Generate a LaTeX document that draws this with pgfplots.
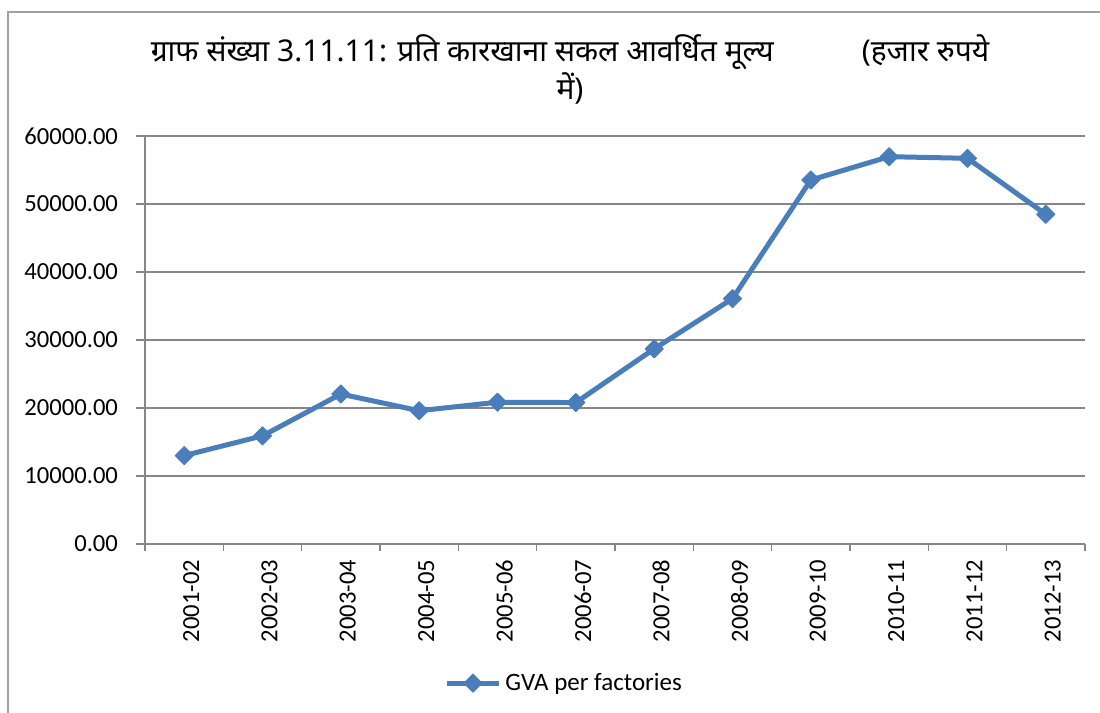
\documentclass[border=0pt]{standalone}
\usepackage{pgfplots}
\pgfplotsset{compat=1.18}
\usepackage{fontspec}
\setmainfont{Carlito}
\newfontfamily\devfont[Script=Devanagari]{Noto Sans}
\definecolor{serblue}{RGB}{74,126,187}
\definecolor{gridgray}{RGB}{134,134,134}
\definecolor{framegray}{RGB}{160,160,160}
\begin{document}
\begin{tikzpicture}
\path[use as bounding box] (-72.5pt,-84.5pt) rectangle (477.5pt,272pt);
\fill[white] (-72.5pt,-84.5pt) rectangle (477.5pt,272pt);
\draw[framegray, line width=1.2pt] (480pt,266pt) -- (-68.5pt,266pt) -- (-68.5pt,-90pt);
\node[font=\devfont\fontsize{15pt}{19pt}\selectfont, align=center] at (212.5pt,237.5pt)
  {ग्राफ संख्या 3.11.11: प्रति कारखाना सकल आवर्धित मूल्य\hspace{44pt}(हजार रुपये\\ में)};
\begin{axis}[
  at={(0pt,0pt)}, anchor=south west,
  scale only axis, width=470pt, height=204pt,
  xmin=-0.5, xmax=11.5, ymin=0, ymax=60000,
  axis lines=left, axis line style={-, gridgray, line width=0.8pt},
  ytick={0,10000,20000,30000,40000,50000,60000},
  scaled y ticks=false,
  ymajorgrids, grid style={gridgray, line width=0.8pt},
  xtick={0,1,2,3,4,5,6,7,8,9,10,11},
  xticklabels={2001-02,2002-03,2003-04,2004-05,2005-06,2006-07,2007-08,2008-09,2009-10,2010-11,2011-12,2012-13},
  minor xtick={-0.5,0.5,1.5,2.5,3.5,4.5,5.5,6.5,7.5,8.5,9.5,10.5,11.5},
  major x tick style={draw=none},
  tick style={gridgray, line width=0.8pt},
  tick align=outside,
  major tick length=4.5pt, minor tick length=3.5pt,
  yticklabel style={xshift=-5.5pt, /pgf/number format/.cd, fixed, fixed zerofill, precision=2, 1000 sep={}, assume math mode=true},
  ticklabel style={font=\fontsize{12.3pt}{14pt}\selectfont},
  xticklabel style={rotate=90, anchor=east, yshift=-3.5pt},
  legend style={at={(0.447,-0.341)}, anchor=center, draw=none, fill=none, font=\fontsize{12.5pt}{14pt}\selectfont},
  legend image code/.code={\draw[mark repeat=2,mark phase=2] plot coordinates {(0pt,0pt)(13pt,0pt)(26pt,0pt)};},
]
\addplot[serblue, line width=2.5pt, line join=round, mark=square*, mark size=3.2pt, mark options={rotate=45, solid, line width=0.5pt}]
  coordinates {(0,13000)(1,15900)(2,22050)(3,19600)(4,20850)(5,20800)(6,28700)(7,36080)(8,53530)(9,56960)(10,56720)(11,48480)};
\addlegendentry{GVA per factories}
\end{axis}
\end{tikzpicture}
\end{document}
